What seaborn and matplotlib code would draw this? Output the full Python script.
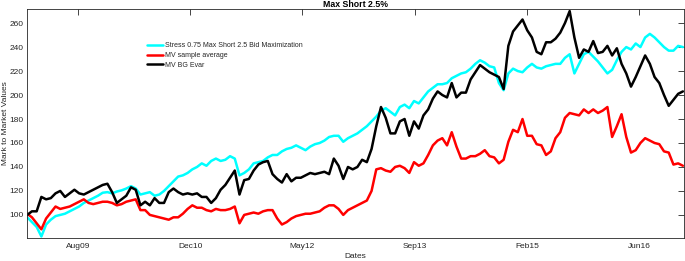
import pandas as pd
import numpy as np
import matplotlib.pyplot as plt
import matplotlib.dates as mdates
import seaborn as sns

# data, one sample every 3 weeks from Jan 2009
start_date = '2009-01-02'
n_points = 140

stress_bid = [98, 94, 90, 82, 92, 96, 99, 100, 101, 103, 105, 107, 110, 112, 114, 116, 118.5, 119, 118, 119.5,
              120.5, 122, 124, 122, 117, 118, 119, 116, 117, 120, 124, 128, 132, 133, 135, 138, 140, 143, 141, 145,
              147, 145, 146, 149, 147, 133, 135, 138, 143, 144, 145, 148, 150, 150, 153, 155, 156, 158, 156, 154,
              157, 159, 160, 162, 165, 166, 166, 161, 164, 166, 168, 171, 174, 178, 182, 187, 189, 186, 183, 190,
              192, 189, 195, 193, 198, 203, 206, 209, 209, 210, 214, 216, 218, 219, 222, 226, 229, 227, 224, 223,
              210, 204, 218, 222, 220, 219, 223, 226, 223, 222, 224, 225, 226, 226, 231, 234, 218, 226, 234, 236,
              232, 228, 223, 218, 221, 229, 236, 240, 238, 243, 240, 248, 251, 248, 244, 240, 237, 237, 241, 240]

mv_sample = [101, 98, 93, 88, 97, 102, 107, 105, 106, 107, 109, 111, 113, 110, 109, 110, 111, 111, 110, 108,
             109, 111, 112, 113, 104, 104, 100, 99, 98, 97, 96, 98, 98, 101, 105, 108, 106, 106, 104, 103,
             105, 104, 104, 105, 107, 93, 100, 101, 102, 101, 103, 104, 104, 97, 92, 94, 97, 99, 100, 101,
             101, 102, 103, 106, 108, 108, 105, 100, 104, 106, 108, 110, 112, 120, 138, 139, 137, 136, 140, 141,
             139, 135, 144, 141, 143, 150, 158, 162, 164, 158, 169, 157, 147, 147, 149, 149, 151, 154, 149, 148,
             143, 146, 161, 171, 169, 180, 166, 166, 159, 158, 150, 153, 164, 169, 181, 185, 184, 183, 188, 185,
             188, 185, 187, 190, 165, 174, 184, 165, 152, 154, 160, 164, 162, 160, 159, 153, 152, 142, 143, 141]

mv_bg_evar = [100, 103, 103, 115, 113, 114, 118, 120, 115, 118, 121, 118, 117, 119, 121, 123, 125, 126, 119, 110,
              113, 116, 123, 121, 108, 111, 108, 114, 110, 110, 119, 122, 119, 117, 118, 117, 118, 115, 115, 110,
              114, 121, 125, 131, 137, 117, 129, 130, 137, 142, 144, 145, 134, 130, 127, 134, 128, 131, 131, 133,
              135, 134, 135, 136, 134, 147, 141, 130, 140, 138, 140, 146, 144, 155, 174, 190, 181, 168, 168, 178,
              180, 166, 178, 172, 183, 188, 197, 203, 200, 198, 210, 198, 202, 202, 213, 219, 225, 222, 219, 217,
              215, 205, 241, 253, 258, 263, 254, 248, 236, 234, 244, 244, 247, 252, 260, 270, 248, 231, 238, 236,
              245, 235, 236, 241, 233, 239, 226, 218, 207, 215, 224, 233, 226, 215, 210, 200, 191, 196, 201, 203]

series_names = ['Stress 0.75 Max Short 2.5 Bid Maximization', 'MV sample average', 'MV BG Evar']
series_colors = ['#00FFFF', '#FF0000', '#000000']

tick_labels = ['Aug09', 'Dec10', 'May12', 'Sep13', 'Feb15', 'Jun16']
first_tick = '2009-08-15'
tick_step_days = 500

dates = pd.date_range(start_date, periods=n_points, freq='21D')
df = pd.DataFrame({
    'Dates': np.tile(dates, 3),
    'value': stress_bid + mv_sample + mv_bg_evar,
    'serie': np.repeat(series_names, n_points),
})

sns.set_style('white')
plt.rcParams['font.family'] = ['Liberation Sans', 'DejaVu Sans']

fig = plt.figure(figsize=(6.85, 2.61), dpi=100)
ax = fig.add_axes([27 / 685, (261 - 237.7) / 261, 657 / 685, 228.4 / 261])

sns.lineplot(data=df, x='Dates', y='value', hue='serie', palette=series_colors,
             hue_order=series_names, linewidth=1.8, sort=False, ax=ax)

tick_pos = [pd.Timestamp(first_tick) + pd.Timedelta(days=tick_step_days * k) for k in range(len(tick_labels))]
ax.set_xticks(mdates.date2num(tick_pos))
ax.set_xticklabels(tick_labels)
ax.set_xlim(mdates.date2num(pd.Timestamp('2009-01-01')), mdates.date2num(pd.Timestamp('2017-01-04')))
ax.set_ylim(81, 271.5)
ax.set_yticks(range(100, 261, 20))

cinza = '#262626'
ax.tick_params(direction='in', length=4, width=0.6, colors=cinza, labelsize=6,
               top=True, right=True, pad=2.5)
ax.tick_params(axis='x', pad=4)
for s in ax.spines.values():
    s.set_color(cinza)
    s.set_linewidth(0.6)

ax.set_xlabel('Dates', fontsize=6, color=cinza, labelpad=2)
ax.set_ylabel('Mark to Market Values', fontsize=6, color=cinza, labelpad=0.5)
ax.set_title('Max Short 2.5%', fontsize=6.3, fontweight='bold', color='black', pad=2)

handles, labels = ax.get_legend_handles_labels()
ax.legend(handles, labels, loc='upper left', bbox_to_anchor=(0.182, 0.855), frameon=False,
          fontsize=5, handlelength=2.4, handletextpad=0.3, labelspacing=0.38, borderpad=0,
          borderaxespad=0)

fig.savefig('out.png', dpi=100)
